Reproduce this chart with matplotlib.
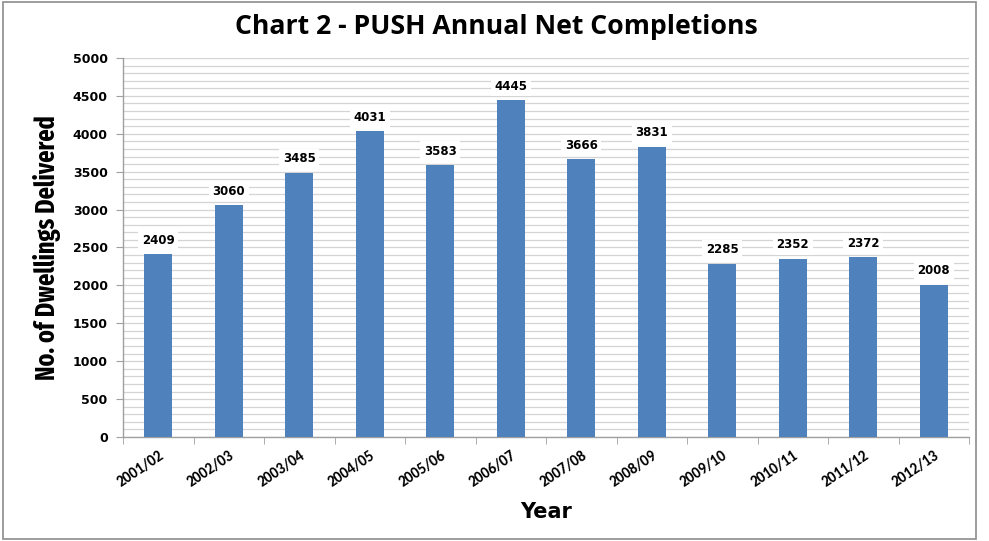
import matplotlib
matplotlib.use("Agg")
import matplotlib.pyplot as plt
from matplotlib.patches import Rectangle

years = ["2001/02", "2002/03", "2003/04", "2004/05", "2005/06", "2006/07",
         "2007/08", "2008/09", "2009/10", "2010/11", "2011/12", "2012/13"]
completions = [2409, 3060, 3485, 4031, 3583, 4445, 3666, 3831, 2285, 2352, 2372, 2008]
yticks = list(range(0, 5001, 500))

fig = plt.figure(figsize=(9.89, 5.41), dpi=100)
ax = fig.add_axes([123/989, 1-437/541, (969-123)/989, (437-58)/541])

x = list(range(len(years)))
ax.bar(x, completions, width=0.4, color="#4F81BD", zorder=3)
ax.set_xlim(-0.5, len(years)-0.5)
ax.set_ylim(0, 5000)

ax.set_yticks(yticks)
ax.set_yticklabels([str(v) for v in yticks], fontsize=9, fontweight="bold", family="DejaVu Sans")
ax.set_yticks(range(0, 5001, 100), minor=True)
ax.grid(axis="y", which="both", color="#d4d4d4", lw=0.9, zorder=0)
ax.tick_params(axis="y", which="minor", length=0)
ax.tick_params(axis="y", which="major", length=5, color="#a0a0a0", pad=6)

ax.set_xticks(x)
ax.set_xticklabels(years, rotation=34, ha="right", rotation_mode="anchor",
                   fontsize=11, fontweight="bold", family="Carlito")
ax.tick_params(axis="x", which="major", length=0, pad=8)
ax.tick_params(axis="x", which="minor", length=5, color="#a0a0a0")
ax.set_xticks([i - 0.5 for i in range(len(years)+1)], minor=True)

for s in ["top", "right"]:
    ax.spines[s].set_visible(False)
for s in ["left", "bottom"]:
    ax.spines[s].set_color("#a0a0a0")
    ax.spines[s].set_linewidth(1)

for xi, v in zip(x, completions):
    ax.annotate(str(v), (xi, v), xytext=(0, 10), textcoords="offset points",
                ha="center", va="center", fontsize=8.5, fontweight="bold",
                family="DejaVu Sans", zorder=5,
                bbox=dict(boxstyle="square,pad=0.3", fc="white", ec="none"))

fig.text(496/989, 1-27/541, "Chart 2 - PUSH Annual Net Completions", ha="center", va="center",
         fontsize=19.2, fontweight="bold", family="Open Sans")
fig.text(546/989, 1-512/541, "Year", ha="center", va="center",
         fontsize=15, fontweight="bold", family="DejaVu Sans")
fig.text(47/989, 1-248/541, "No. of Dwellings Delivered", ha="center", va="center", rotation=90,
         fontsize=19, fontweight="bold", family="Fira Sans Extra Condensed")

fig.patches.append(Rectangle((3/989, 2/541), 973/989, 537/541, transform=fig.transFigure,
                             fill=False, ec="#8c8c8c", lw=1.2))

fig.savefig("out.png", dpi=100)
